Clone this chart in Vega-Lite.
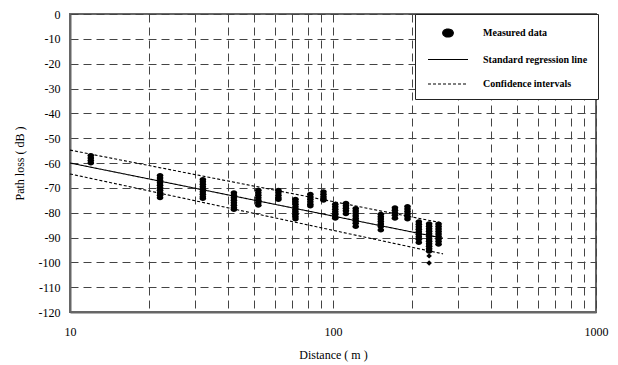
{
  "$schema": "https://vega.github.io/schema/vega-lite/v6.json",
  "width": 526,
  "height": 298,
  "autosize": "none",
  "padding": {"left": 70, "top": 14, "right": 22, "bottom": 53},
  "background": "white",
  "config": {
    "font": "Liberation Serif",
    "view": {"stroke": "#666", "strokeWidth": 2},
    "axis": {
      "labelFont": "Liberation Serif",
      "titleFont": "Liberation Serif",
      "labelFontSize": 12,
      "titleFontSize": 12,
      "titleFontWeight": "normal",
      "labelColor": "black",
      "titleColor": "black",
      "domainColor": "#666",
      "domainWidth": 2,
      "ticks": false,
      "grid": true,
      "gridColor": "#444",
      "gridWidth": 1,
      "gridDash": [8, 5],
      "gridOpacity": 1,
      "labelFlush": false,
      "labelOverlap": false
    },
    "legend": {
      "orient": "none",
      "legendX": 345,
      "legendY": 0,
      "title": " ",
      "titleFontSize": 16,
      "titlePadding": 0,
      "padding": 10,
      "rowPadding": 10.5,
      "symbolSize": 256,
      "symbolOffset": 14,
      "labelOffset": 26,
      "labelFont": "Liberation Serif",
      "labelFontSize": 10,
      "labelFontWeight": "bold",
      "labelColor": "black",
      "fillColor": "white",
      "strokeColor": "#222",
      "symbolFillColor": "black",
      "symbolStrokeColor": "black",
      "symbolStrokeWidth": 1.2,
      "labelLimit": 200
    }
  },
  "datasets": {
    "measured": [
      {"d": 12, "pl": -57}, {"d": 12, "pl": -58}, {"d": 12, "pl": -59}, {"d": 12, "pl": -60},
      {"d": 22, "pl": -65}, {"d": 22, "pl": -66}, {"d": 22, "pl": -67}, {"d": 22, "pl": -68}, {"d": 22, "pl": -69}, {"d": 22, "pl": -70}, {"d": 22, "pl": -71}, {"d": 22, "pl": -72}, {"d": 22, "pl": -73}, {"d": 22, "pl": -74},
      {"d": 32, "pl": -66.6}, {"d": 32, "pl": -67.6}, {"d": 32, "pl": -68.6}, {"d": 32, "pl": -69.6}, {"d": 32, "pl": -70.6}, {"d": 32, "pl": -71.6}, {"d": 32, "pl": -72.6}, {"d": 32, "pl": -73.6}, {"d": 32, "pl": -74.3},
      {"d": 42, "pl": -72}, {"d": 42, "pl": -73}, {"d": 42, "pl": -74}, {"d": 42, "pl": -75}, {"d": 42, "pl": -76}, {"d": 42, "pl": -77}, {"d": 42, "pl": -78}, {"d": 42, "pl": -78.7},
      {"d": 52, "pl": -71}, {"d": 52, "pl": -72}, {"d": 52, "pl": -73}, {"d": 52, "pl": -74}, {"d": 52, "pl": -75}, {"d": 52, "pl": -76}, {"d": 52, "pl": -77},
      {"d": 62, "pl": -71}, {"d": 62, "pl": -72}, {"d": 62, "pl": -73}, {"d": 62, "pl": -74}, {"d": 62, "pl": -74.7},
      {"d": 72, "pl": -74.6}, {"d": 72, "pl": -75.6}, {"d": 72, "pl": -76.6}, {"d": 72, "pl": -77.6}, {"d": 72, "pl": -78.6}, {"d": 72, "pl": -79.6}, {"d": 72, "pl": -80.6}, {"d": 72, "pl": -81.6}, {"d": 72, "pl": -82.6},
      {"d": 82, "pl": -72.6}, {"d": 82, "pl": -73.6}, {"d": 82, "pl": -74.6}, {"d": 82, "pl": -75.6}, {"d": 82, "pl": -76.6}, {"d": 82, "pl": -77.3},
      {"d": 92, "pl": -71.6}, {"d": 92, "pl": -72.6}, {"d": 92, "pl": -73.6}, {"d": 92, "pl": -74.4}, {"d": 92, "pl": -75},
      {"d": 102, "pl": -76.6}, {"d": 102, "pl": -77.6}, {"d": 102, "pl": -78.6}, {"d": 102, "pl": -79.6}, {"d": 102, "pl": -80.6}, {"d": 102, "pl": -81.6}, {"d": 102, "pl": -82.2},
      {"d": 112, "pl": -76.2}, {"d": 112, "pl": -77.2}, {"d": 112, "pl": -78.2}, {"d": 112, "pl": -79.2}, {"d": 112, "pl": -80.4},
      {"d": 122, "pl": -78.3}, {"d": 122, "pl": -79.3}, {"d": 122, "pl": -80.3}, {"d": 122, "pl": -81.3}, {"d": 122, "pl": -82.3}, {"d": 122, "pl": -83.3}, {"d": 122, "pl": -84.3}, {"d": 122, "pl": -85.6},
      {"d": 152, "pl": -80.6}, {"d": 152, "pl": -81.6}, {"d": 152, "pl": -82.6}, {"d": 152, "pl": -83.6}, {"d": 152, "pl": -84.6}, {"d": 152, "pl": -85.6}, {"d": 152, "pl": -87},
      {"d": 172, "pl": -78}, {"d": 172, "pl": -79}, {"d": 172, "pl": -80}, {"d": 172, "pl": -81}, {"d": 172, "pl": -82.2},
      {"d": 192, "pl": -77.5}, {"d": 192, "pl": -78.5}, {"d": 192, "pl": -79.5}, {"d": 192, "pl": -80.5}, {"d": 192, "pl": -81.5}, {"d": 192, "pl": -82.6},
      {"d": 212, "pl": -83.7}, {"d": 212, "pl": -84.7}, {"d": 212, "pl": -85.7}, {"d": 212, "pl": -86.7}, {"d": 212, "pl": -87.7}, {"d": 212, "pl": -88.7}, {"d": 212, "pl": -89.7}, {"d": 212, "pl": -90.7}, {"d": 212, "pl": -92},
      {"d": 232, "pl": -84.5}, {"d": 232, "pl": -85.5}, {"d": 232, "pl": -86.5}, {"d": 232, "pl": -87.5}, {"d": 232, "pl": -88.5}, {"d": 232, "pl": -89.5}, {"d": 232, "pl": -90.5}, {"d": 232, "pl": -91.5}, {"d": 232, "pl": -92.5}, {"d": 232, "pl": -93.5}, {"d": 232, "pl": -94.5}, {"d": 232, "pl": -95.5},
      {"d": 252, "pl": -84.6}, {"d": 252, "pl": -85.6}, {"d": 252, "pl": -86.6}, {"d": 252, "pl": -87.6}, {"d": 252, "pl": -88.6}, {"d": 252, "pl": -89.6}, {"d": 252, "pl": -90.6}, {"d": 252, "pl": -91.6}, {"d": 252, "pl": -92.7}
    ],
    "outliers": [
      {"d": 232, "pl": -97.4},
      {"d": 232, "pl": -100.3}
    ],
    "lines": [
      {"d": 10, "pl": -60, "line": "center", "series": "Standard regression line"},
      {"d": 262, "pl": -90.3, "line": "center", "series": "Standard regression line"},
      {"d": 10, "pl": -54.8, "line": "upper", "series": "Confidence intervals"},
      {"d": 262, "pl": -84.2, "line": "upper", "series": "Confidence intervals"},
      {"d": 10, "pl": -64.4, "line": "lower", "series": "Confidence intervals"},
      {"d": 262, "pl": -96.6, "line": "lower", "series": "Confidence intervals"}
    ]
  },
  "encoding": {
    "x": {
      "field": "d",
      "type": "quantitative",
      "scale": {"type": "log", "domain": [10, 1000], "nice": false},
      "axis": {
        "title": "Distance ( m )",
        "values": [10, 20, 30, 40, 50, 60, 70, 80, 90, 100, 200, 300, 400, 500, 600, 700, 800, 900, 1000],
        "labelExpr": "datum.value == 10 || datum.value == 100 || datum.value == 1000 ? '' + datum.value : ''",
        "labelPadding": 14,
        "titlePadding": 12
      }
    },
    "y": {
      "field": "pl",
      "type": "quantitative",
      "scale": {"domain": [-120, 0], "nice": false, "zero": false},
      "axis": {
        "title": "Path loss ( dB )",
        "values": [0, -10, -20, -30, -40, -50, -60, -70, -80, -90, -100, -110, -120],
        "labelExpr": "'' + datum.value",
        "labelPadding": 10,
        "titlePadding": 12
      }
    }
  },
  "layer": [
    {
      "data": {"name": "lines"},
      "mark": {"type": "line", "color": "black", "strokeWidth": 1.1},
      "encoding": {
        "detail": {"field": "line"},
        "strokeDash": {
          "field": "series",
          "type": "nominal",
          "scale": {
            "domain": ["Measured data", "Standard regression line", "Confidence intervals"],
            "range": [[1, 0], [1, 0], [3, 2]]
          },
          "legend": {
            "encode": {"symbols": {"update": {"fill": {"value": "black"}, "stroke": {"value": "black"}, "strokeWidth": {"value": 1.2}}}}
          }
        }
      }
    },
    {
      "data": {"name": "measured"},
      "transform": [{"calculate": "'Measured data'", "as": "series"}],
      "mark": {"type": "point", "filled": true, "color": "black", "opacity": 1, "size": 100},
      "encoding": {
        "shape": {
          "field": "series",
          "type": "nominal",
          "scale": {
            "domain": ["Measured data", "Standard regression line", "Confidence intervals"],
            "range": ["M-0.66,0A0.66,0.5 0 1,0 0.66,0A0.66,0.5 0 1,0 -0.66,0Z", "M-2.5,0H2.5", "M-2.5,0H2.5"]
          },
          "legend": {
            "encode": {"symbols": {"update": {"fill": {"value": "black"}, "stroke": {"value": "black"}, "strokeWidth": {"value": 1.2}}}}
          }
        }
      }
    },
    {
      "data": {"name": "outliers"},
      "mark": {"type": "point", "filled": true, "color": "black", "opacity": 1, "shape": "diamond", "size": 30}
    }
  ]
}
